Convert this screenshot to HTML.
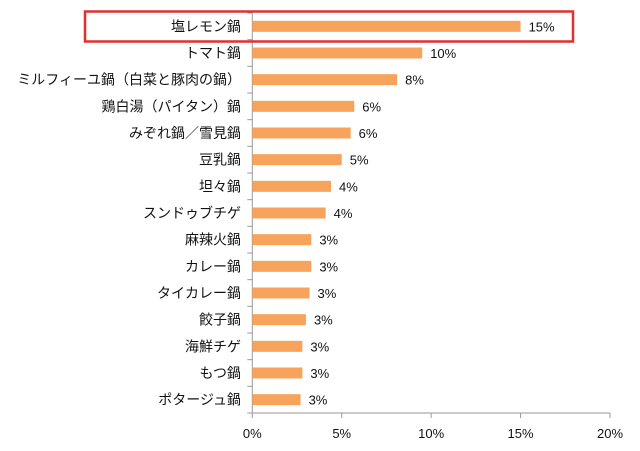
<!DOCTYPE html>
<html><head><meta charset="utf-8">
<style>
html,body{margin:0;padding:0;background:#fff;}
svg{display:block;font-family:"Liberation Sans","Noto Sans CJK JP",sans-serif;}
</style></head>
<body>
<svg id="chart" width="640" height="451" viewBox="0 0 640 451" xmlns="http://www.w3.org/2000/svg"></svg>
<script>
const categories = ["塩レモン鍋","トマト鍋","ミルフィーユ鍋（白菜と豚肉の鍋）","鶏白湯（パイタン）鍋","みぞれ鍋／雪見鍋","豆乳鍋","坦々鍋","スンドゥブチゲ","麻辣火鍋","カレー鍋","タイカレー鍋","餃子鍋","海鮮チゲ","もつ鍋","ポタージュ鍋"];
const values = [15.0,9.5,8.1,5.7,5.5,5.0,4.4,4.1,3.3,3.3,3.2,3.0,2.8,2.8,2.7];
const valueLabels = ["15%","10%","8%","6%","6%","5%","4%","4%","3%","3%","3%","3%","3%","3%","3%"];
const ticks = [0,5,10,15,20];
const tickLabels = ["0%","5%","10%","15%","20%"];

const NS="http://www.w3.org/2000/svg";
const svg=document.getElementById('chart');
const x0=252.3, x1=610, plotTop=13, plotBottom=413;
const xs=v=>x0+(v-0)/(20-0)*(x1-x0);
const band=(plotBottom-plotTop)/categories.length;
const yc=i=>plotTop+band*(i+0.5);
function mk(tag,attrs){const e=document.createElementNS(NS,tag);for(const k in attrs)e.setAttribute(k,attrs[k]);svg.appendChild(e);return e;}

let ax=mk('line',{x1:x0,y1:plotTop,x2:x0,y2:plotBottom,stroke:'#999','stroke-width':1});


let bx=mk('line',{x1:x0,y1:plotBottom,x2:x1,y2:plotBottom,stroke:'#999','stroke-width':1});


for(let i=0;i<=categories.length;i++){
  const y=plotTop+band*i;
  const t=mk('line',{x1:x0-5,y1:y,x2:x0,y2:y,stroke:'#999','stroke-width':1});
  
  
}
ticks.forEach((v,i)=>{
  const t=mk('line',{x1:xs(v),y1:plotBottom,x2:xs(v),y2:plotBottom+5,stroke:'#999','stroke-width':1});
  
  
  const l=mk('text',{x:xs(v),y:plotBottom+25,'text-anchor':'middle','font-size':13,fill:'#111'});
  l.textContent=tickLabels[i];
  
  
});
categories.forEach((c,i)=>{
  const y=yc(i);
  const r=mk('rect',{x:x0,y:y-5.5,width:xs(values[i])-x0,height:11,fill:'#f7a35c'});
  
  
  const l=mk('text',{x:241,y:y+5,'text-anchor':'end','font-size':14,fill:'#111'});
  l.textContent=c;
  
  
  const v=mk('text',{x:xs(values[i])+8,y:y+5,'font-size':13,fill:'#111'});
  v.textContent=valueLabels[i];
  
  
});
const hb=mk('rect',{x:85,y:11.5,width:488,height:30,fill:'none',stroke:'#e03030','stroke-width':2.5});


</script>
</body></html>
